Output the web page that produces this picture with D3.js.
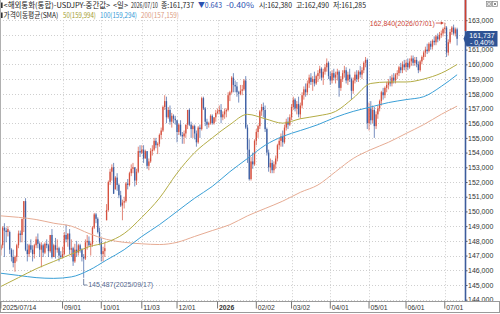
<!DOCTYPE html>
<html>
<head>
<meta charset="utf-8">
<script src="https://cdnjs.cloudflare.com/ajax/libs/d3/7.8.5/d3.min.js"></script>
<style>
body{margin:0;background:#fff;}
svg{display:block;font-family:"Liberation Sans",Arial,sans-serif;}
</style>
</head>
<body>
<svg id="chart" width="500" height="314"></svg>
<script>
// USDJPY daily candles, 2025/07/14 - 2026/07/10 (weekdays)
const START_DATE = "2025-07-14";
const END_DATE = "2026-07-10";

var opens = [
	147.4,147.7,148.9,148.7,148.6,148.6,147.4,146.9,146.5,146.9,
	147.7,148.5,148.4,149.5,150.7,147.4,147.1,147.7,147.4,147.1,
	147.7,148.1,147.8,147.4,147.7,147.2,147.8,147.7,147.3,148.4,
	146.9,147.7,147.4,147.5,147.0,146.9,147.1,148.4,148.1,148.5,
	147.4,147.5,146.6,147.4,147.2,147.7,147.4,146.9,146.8,147.9,
	148.0,147.7,147.8,148.9,149.8,149.5,148.6,147.9,147.1,147.3,
	149.4,150.1,152.0,152.7,153.0,151.5,152.3,151.8,151.1,150.4,
	150.6,150.7,151.9,151.8,152.6,152.9,153.0,152.1,152.7,154.1,
	154.0,154.2,153.6,154.1,153.1,153.4,154.1,154.2,154.8,154.5,
	154.6,155.2,155.5,157.1,157.5,156.4,156.9,156.1,156.5,156.3,
	156.2,155.4,155.9,155.2,155.1,155.3,155.9,156.9,155.9,155.6,
	155.8,155.3,154.7,155.7,155.6,157.7,157.0,156.1,155.9,156.0,
	156.5,156.0,156.4,156.7,156.8,156.9,156.4,156.6,156.8,156.9,
	157.9,158.1,159.1,158.6,158.5,158.1,158.0,158.2,158.3,158.9,
	155.7,154.2,152.2,153.4,153.2,154.8,155.4,155.8,156.8,157.1,
	156.9,155.6,154.0,153.0,153.3,152.8,153.2,153.6,154.5,154.8,
	155.1,154.7,155.7,156.1,155.9,156.4,157.1,157.6,157.0,157.3,
	156.6,157.2,157.9,158.3,158.1,158.7,159.1,158.8,159.0,158.7,
	159.2,159.4,159.7,159.1,159.5,159.8,160.1,159.2,158.9,159.4,
	159.1,159.3,159.5,158.4,159.0,159.4,159.6,158.9,159.3,159.0,
	158.2,158.9,159.3,159.0,159.5,159.3,159.6,160.1,160.3,156.0,
	157.0,156.2,156.9,155.8,156.6,157.0,157.5,158.1,157.9,158.4,
	158.6,158.8,158.7,159.1,158.9,159.3,159.4,159.8,159.6,160.0,
	159.8,160.1,159.8,160.2,160.4,160.1,160.3,160.0,159.6,160.2,
	160.5,160.8,161.0,160.9,161.4,161.2,161.6,161.5,161.9,161.7,
	162.0,162.1,162.4,162.5,160.8,161.5,162.2,162.5,162.1,162.38
];
var highs = [
	147.8,149.0,149.2,148.9,149.0,148.7,147.5,147.4,147.0,147.8,
	148.7,148.7,149.5,150.7,150.9,147.8,147.8,148.1,147.7,147.8,
	148.3,148.5,147.9,147.9,147.8,147.9,148.1,147.8,148.4,148.8,
	147.8,148.2,148.1,147.6,147.3,147.6,148.6,149.1,148.5,148.8,
	148.1,147.6,147.8,148.0,147.8,147.8,147.5,147.1,148.1,148.4,
	148.3,147.9,149.0,149.9,149.9,149.6,148.9,148.2,147.6,147.9,
	150.5,152.1,152.9,153.2,153.3,152.4,152.6,151.9,151.4,150.8,
	151.0,152.0,152.2,152.7,153.2,153.3,153.0,152.9,154.4,154.5,
	154.5,154.5,154.2,154.1,153.6,154.3,154.5,155.0,155.0,154.7,
	155.3,155.7,157.2,157.9,157.8,157.1,157.2,156.7,156.6,156.5,
	156.2,156.0,156.2,155.4,155.5,155.9,156.9,157.0,156.1,155.9,
	155.9,155.5,155.8,155.9,157.8,157.8,157.1,156.3,156.1,156.6,
	156.6,156.4,156.9,157.0,157.2,157.3,156.8,157.0,157.0,158.1,
	158.2,159.2,159.4,158.9,158.8,158.2,158.6,158.6,159.0,159.2,
	155.9,154.9,153.7,154.0,154.9,155.6,155.9,156.9,157.3,157.4,
	157.2,155.7,154.2,153.6,153.5,153.4,153.8,154.6,155.0,155.3,
	155.5,155.9,156.3,156.4,156.6,157.3,157.8,157.7,157.5,157.8,
	157.4,158.1,158.5,158.7,158.9,159.3,159.4,159.2,159.5,159.3,
	159.6,159.9,159.8,159.7,160.0,160.4,160.2,159.5,159.6,159.7,
	159.5,159.7,159.6,159.2,159.6,159.9,159.8,159.5,159.7,159.1,
	159.1,159.5,159.6,159.6,159.9,159.8,160.2,160.5,160.4,157.4,
	157.5,157.2,157.1,156.8,157.2,157.6,158.2,158.4,158.5,158.8,
	159.0,159.2,159.3,159.4,159.4,159.6,159.9,160.1,160.2,160.3,
	160.3,160.4,160.4,160.6,160.6,160.5,160.5,160.2,160.3,160.6,
	160.9,161.2,161.4,161.5,161.6,161.7,161.9,162.0,162.1,162.2,
	162.3,162.5,162.84,162.6,161.7,162.4,162.6,162.7,162.5,162.49
];
var lows = [
	147.0,147.5,146.9,147.9,148.3,147.1,146.6,146.2,145.9,146.6,
	147.5,147.9,147.9,148.6,147.3,146.6,146.9,147.2,146.6,146.8,
	147.5,147.5,146.9,146.2,146.9,147.1,147.5,146.9,147.2,146.8,
	146.9,146.8,147.2,146.6,146.8,146.8,147.0,147.9,147.6,147.1,
	146.9,146.3,146.5,146.9,147.0,147.2,146.6,145.487,146.7,147.4,
	147.6,147.0,147.6,148.8,149.2,148.5,147.7,146.6,146.6,146.9,
	149.4,150.0,151.8,152.1,151.2,151.5,151.4,150.9,150.3,149.4,
	150.2,150.6,151.5,151.7,152.4,152.6,151.7,151.8,152.6,153.7,
	153.9,153.3,153.6,152.9,152.8,153.3,153.8,154.1,154.3,153.9,
	154.4,154.9,155.4,156.9,156.0,156.3,155.9,155.7,156.0,155.9,
	154.7,155.2,155.1,154.6,154.6,155.0,155.6,155.8,155.0,155.0,
	154.9,154.4,154.6,155.0,155.5,156.9,155.8,155.6,155.7,155.9,
	155.9,155.9,156.1,156.6,156.6,156.0,156.2,156.3,156.4,156.8,
	157.5,158.0,158.1,158.1,157.8,157.4,157.9,157.9,158.2,155.6,
	153.3,152.1,152.1,152.9,153.1,154.5,155.0,155.6,156.5,156.4,
	155.4,153.8,152.7,152.6,152.6,152.6,152.9,153.4,154.2,154.4,
	154.4,154.6,155.5,155.6,155.8,156.2,156.9,156.8,156.6,156.4,
	156.3,157.0,157.6,157.8,157.9,158.4,158.6,158.2,158.5,158.6,
	158.8,159.0,158.9,158.6,159.3,159.5,159.0,158.6,158.7,158.9,
	158.7,158.9,157.8,158.2,158.8,159.1,158.7,158.6,158.8,157.6,
	158.0,158.7,158.8,158.8,159.1,159.0,159.4,159.8,155.6,155.5,
	155.9,156.0,155.0,155.6,156.3,156.8,157.2,157.6,157.7,158.1,
	158.3,158.5,158.5,158.7,158.7,159.0,159.2,159.4,159.4,159.6,
	159.5,159.6,159.7,159.9,159.9,159.9,159.8,159.4,159.5,160.0,
	160.3,160.5,160.7,160.8,161.0,161.0,161.3,161.3,161.5,161.6,
	161.8,161.9,162.1,160.5,160.6,161.4,162.0,162.0,161.9,161.285
];
var closes = [
	147.7,148.9,148.7,148.6,148.8,147.4,146.9,146.5,146.9,147.7,
	148.5,148.4,149.5,150.7,147.4,147.1,147.7,147.4,147.1,147.7,
	148.1,147.8,147.4,147.7,147.2,147.8,147.7,147.3,148.4,146.9,
	147.7,147.4,147.5,147.0,146.9,147.1,148.4,148.1,148.5,147.4,
	147.5,146.6,147.4,147.2,147.7,147.4,146.9,146.8,147.9,148.0,
	147.7,147.8,148.9,149.8,149.5,148.6,147.9,147.1,147.3,147.5,
	150.1,152.0,152.7,153.0,151.2,152.3,151.8,151.1,150.4,150.6,
	150.7,151.9,151.8,152.6,152.9,153.0,152.1,152.7,154.1,154.0,
	154.2,153.6,154.1,153.1,153.4,154.1,154.2,154.8,154.5,154.6,
	155.2,155.5,157.1,157.5,156.4,156.9,156.1,156.5,156.3,156.2,
	155.4,155.9,155.2,155.1,155.3,155.9,156.9,155.9,155.6,155.8,
	155.3,154.7,155.7,155.6,157.7,157.0,156.1,155.9,156.0,156.5,
	156.0,156.4,156.7,156.8,156.9,156.4,156.6,156.8,156.9,157.9,
	158.1,159.1,158.6,158.5,158.1,158.0,158.2,158.3,158.9,155.7,
	154.2,152.2,153.4,153.2,154.8,155.4,155.8,156.8,157.1,156.9,
	155.6,154.0,153.0,153.3,152.8,153.2,153.6,154.5,154.8,155.1,
	154.7,155.7,156.1,155.9,156.4,157.1,157.6,157.0,157.3,156.6,
	157.2,157.9,158.3,158.1,158.7,159.1,158.8,159.0,158.7,159.2,
	159.4,159.7,159.1,159.5,159.8,160.1,159.2,158.9,159.4,159.1,
	159.3,159.5,158.4,159.0,159.4,159.6,158.9,159.3,159.0,158.2,
	158.9,159.3,159.0,159.5,159.3,159.6,160.1,160.3,156.0,157.0,
	156.2,156.9,155.8,156.6,157.0,157.5,158.1,157.9,158.4,158.6,
	158.8,158.7,159.1,158.9,159.3,159.4,159.8,159.6,160.0,159.8,
	160.1,159.8,160.2,160.4,160.1,160.3,160.0,159.6,160.2,160.5,
	160.8,161.0,160.9,161.4,161.2,161.6,161.5,161.9,161.7,162.0,
	162.1,162.4,162.5,160.8,161.5,162.2,162.5,162.1,162.38,161.737
];

// moving averages at every 10th session
var maIndex = [0,10,20,30,40,50,60,70,80,90,100,110,120,130,140,150,160,170,180,190,200,210,220,230,240,250,259];
var sma50  = [144.9,145.5,146.1,146.6,147.1,147.6,147.9,148.5,149.6,150.9,152.6,154.0,155.0,155.9,156.6,156.3,156.0,156.3,156.5,156.8,157.7,158.7,158.8,158.8,159.0,159.4,159.994];
var sma100 = [145.8,145.65,145.5,145.45,145.55,146.0,146.7,147.4,148.3,149.1,150.0,150.9,151.7,152.7,153.6,154.5,155.1,155.5,155.9,156.4,156.8,157.1,157.4,157.6,157.8,158.5,159.294];
var sma200 = [149.7,149.6,149.45,149.2,149.0,148.5,148.1,147.9,147.8,147.75,147.9,148.3,148.7,149.1,149.7,150.2,150.7,151.3,151.8,152.7,153.6,154.2,154.7,155.3,155.9,156.6,157.159];

var tickDates  = ["2025-07-14","2025-09-01","2025-10-01","2025-11-03","2025-12-01","2026-01-01","2026-02-02","2026-03-02","2026-04-01","2026-05-01","2026-06-01","2026-07-01"];
var tickLabels = ["2025/07/14","09/01","10/01","11/03","12/01","2026","02/02","03/02","04/01","05/01","06/01","07/01"];
var priceTicks = [144,145,146,147,148,149,150,151,152,153,154,155,156,157,158,159,160,161,162,163];

var UP_COLOR = "#d5503e", DOWN_COLOR = "#3d5fa3";
var MA_COLORS = {sma50: "#b3ac45", sma100: "#3a9fd6", sma200: "#e6ab93"};

function tradingDays(start, end){
	var days = [];
	var d = new Date(start + "T00:00:00Z"), last = new Date(end + "T00:00:00Z");
	while (d <= last){
		var wd = d.getUTCDay();
		if (wd != 0 && wd != 6) days.push(d.toISOString().slice(0, 10));
		d.setUTCDate(d.getUTCDate() + 1);
	}
	return days;
}

function fmt(v){
	return v.toFixed(3).replace(".", ",");
}

var days = tradingDays(START_DATE, END_DATE);
var n = closes.length;

var svg = d3.select("#chart");
var plotRight = 465.5, plotBottom = 301.5;

var x = d3.scaleBand().domain(days).range([0, 458]).padding(0);
var y = d3.scaleLinear().domain([144, 163]).range([299.7, 20.2]);
var bw = x.bandwidth();
function cx(i){ return x(days[i]) + bw / 2; }

svg.append("rect").attr("width", 500).attr("height", 314).attr("fill", "#fff");

svg.append("clipPath").attr("id", "plotClip")
	.append("rect").attr("x", 0).attr("y", 0).attr("width", plotRight).attr("height", plotBottom);

var plot = svg.append("g").attr("clip-path", "url(#plotClip)");

//---------------------------------  grid  ---------------------------------------

plot.selectAll(".hgrid").data(priceTicks).enter().append("line")
	.attr("x1", 0).attr("x2", plotRight)
	.attr("y1", function(d){ return Math.round(y(d)) + 0.5; })
	.attr("y2", function(d){ return Math.round(y(d)) + 0.5; })
	.attr("stroke", "#cfcfcf").attr("stroke-dasharray", "1,2");

plot.selectAll(".vgrid").data(tickDates.slice(1)).enter().append("line")
	.attr("x1", function(d){ return Math.round(x(d) + bw / 2) + 0.5; })
	.attr("x2", function(d){ return Math.round(x(d) + bw / 2) + 0.5; })
	.attr("y1", y(163)).attr("y2", plotBottom)
	.attr("stroke", "#cfcfcf").attr("stroke-dasharray", "1,2");

//---------------------------------  candles  ---------------------------------------

var idx = d3.range(n);

plot.selectAll(".wick").data(idx).enter().append("line")
	.attr("x1", cx).attr("x2", cx)
	.attr("y1", function(i){ return y(highs[i]); })
	.attr("y2", function(i){ return y(lows[i]); })
	.attr("stroke", function(i){ return closes[i] >= opens[i] ? UP_COLOR : DOWN_COLOR; })
	.attr("stroke-width", 0.7);

plot.selectAll(".body").data(idx).enter().append("rect")
	.attr("x", function(i){ return cx(i) - 0.65; })
	.attr("width", 1.3)
	.attr("y", function(i){ return y(Math.max(opens[i], closes[i])); })
	.attr("height", function(i){ return Math.max(1, Math.abs(y(opens[i]) - y(closes[i]))); })
	.attr("fill", function(i){ return closes[i] >= opens[i] ? UP_COLOR : DOWN_COLOR; });

//---------------------------------  moving averages  ---------------------------------------

var maLine = d3.line()
	.x(function(d){ return cx(d[0]); })
	.y(function(d){ return y(d[1]); })
	.curve(d3.curveMonotoneX);

[["sma200", sma200], ["sma100", sma100], ["sma50", sma50]].forEach(function(s){
	plot.append("path")
		.datum(maIndex.map(function(i, k){ return [i, s[1][k]]; }))
		.attr("fill", "none")
		.attr("stroke", MA_COLORS[s[0]])
		.attr("stroke-width", 1)
		.attr("d", maLine);
});

//---------------------------------  high / low marks  ---------------------------------------

var hiI = d3.maxIndex(highs), loI = d3.minIndex(lows);
var hx = cx(hiI), hy = y(highs[hiI]) + 0.5;
svg.append("line").attr("x1", hx - 9).attr("x2", hx - 3).attr("y1", hy).attr("y2", hy)
	.attr("stroke", "#cc4436").attr("stroke-width", 0.8);
svg.append("path").attr("d", "M" + (hx - 1) + "," + hy + "L" + (hx - 4) + "," + (hy - 1.8) + "L" + (hx - 4) + "," + (hy + 1.8) + "Z")
	.attr("fill", "#cc4436");
svg.append("text").attr("x", hx - 10).attr("y", hy + 2.6)
	.attr("text-anchor", "end").attr("font-size", 7).attr("fill", "#cc4436")
	.text(fmt(highs[hiI]) + "(" + days[hiI].replace(/-/g, "/") + ")");

var lx = cx(loI), ly = y(lows[loI]);
svg.append("path").attr("d", "M" + lx + "," + (ly + 1) + "V" + (ly + 7.2) + "H" + (lx + 3.5))
	.attr("fill", "none").attr("stroke", "#55698f").attr("stroke-width", 0.8);
svg.append("text").attr("x", lx + 4.5).attr("y", ly + 9.6)
	.attr("font-size", 7).attr("fill", "#55698f")
	.text(fmt(lows[loI]) + "(" + days[loI].replace(/-/g, "/") + ")");

//---------------------------------  axes  ---------------------------------------

svg.append("line").attr("x1", 0.5).attr("x2", 0.5).attr("y1", 0).attr("y2", 313)
	.attr("stroke", "#b0b0b0");

var yAxis = svg.append("g")
	.attr("transform", "translate(" + plotRight + ",0)")
	.call(d3.axisRight(y).tickValues(priceTicks).tickSize(2).tickFormat(fmt));
yAxis.select(".domain").remove();
yAxis.selectAll("line").attr("stroke", "#555");
yAxis.selectAll("text").attr("x", 2.5).attr("font-size", 7).attr("fill", "#333")
	.attr("font-family", "'Liberation Sans', Arial, sans-serif");

svg.append("line").attr("x1", plotRight).attr("x2", plotRight).attr("y1", 0).attr("y2", plotBottom)
	.attr("stroke", "#3c5c9c").attr("stroke-width", 1.6);
svg.append("line").attr("x1", plotRight).attr("x2", plotRight).attr("y1", 0).attr("y2", 31)
	.attr("stroke", "#d0402f").attr("stroke-width", 1.6);

svg.append("rect").attr("x", 0.5).attr("y", plotBottom).attr("width", 499).attr("height", 11)
	.attr("fill", "#fff").attr("stroke", "#9a9a9a");

var xAxis = svg.append("g")
	.attr("transform", "translate(0," + plotBottom + ")")
	.call(d3.axisBottom(x).tickValues(tickDates).tickSize(7)
		.tickFormat(function(d){ return tickLabels[tickDates.indexOf(d)]; }));
xAxis.select(".domain").remove();
xAxis.selectAll("line").attr("stroke", "#777");
xAxis.selectAll("text")
	.attr("x", 1.5).attr("y", 8.6).attr("dy", null)
	.attr("text-anchor", "start").attr("font-size", 6.8).attr("fill", "#333")
	.attr("font-family", "'Liberation Sans', Arial, sans-serif")
	.attr("font-weight", function(d){ return d == "2026-01-01" ? "bold" : null; });

//---------------------------------  last price box  ---------------------------------------

var last = closes[n - 1], prev = closes[n - 2];
var chg = last - prev, pct = chg / prev * 100;
var py = y(last);
svg.append("path")
	.attr("d", "M463.5," + py + "L466.5,31H497.5V46.5H466.5Z")
	.attr("fill", "#2e5395");
svg.append("text").attr("x", 482).attr("y", 37.6).attr("text-anchor", "middle")
	.attr("font-size", 7).attr("fill", "#fff").text(fmt(last));
svg.append("text").attr("x", 482).attr("y", 45).attr("text-anchor", "middle")
	.attr("font-size", 7).attr("fill", "#fff").text("- " + Math.abs(pct).toFixed(2).replace(".", ",") + "%");

// window buttons
svg.append("rect").attr("x", 486.5).attr("y", 1.5).attr("width", 5).attr("height", 5)
	.attr("fill", "#fff").attr("stroke", "#888").attr("stroke-width", 0.7);
svg.append("rect").attr("x", 487.8).attr("y", 2.8).attr("width", 2.4).attr("height", 2.4)
	.attr("fill", "none").attr("stroke", "#666").attr("stroke-width", 0.6);
svg.append("rect").attr("x", 492.5).attr("y", 1.5).attr("width", 5).attr("height", 5)
	.attr("fill", "#fff").attr("stroke", "#888").attr("stroke-width", 0.7);
svg.append("path").attr("d", "M493.8,2.8L496.2,5.2M496.2,2.8L493.8,5.2")
	.attr("stroke", "#555").attr("stroke-width", 0.7);

//---------------------------------  header  ---------------------------------------

svg.append("rect").attr("x", 1).attr("y", 2.5).attr("width", 1.6).attr("height", 5.5).attr("fill", "#333");
svg.append("rect").attr("x", 1).attr("y", 12.5).attr("width", 1.6).attr("height", 5.5).attr("fill", "#333");

// each piece: [text, x, width, colour]
var headLine1 = [
	["<해외통화(통합)-USDJPY-중간값>", 3.5, 107, "#222"],
	["<일>", 113, 15, "#222"],
	[days[n - 1].replace(/-/g, "/"), 131, 27, "#222"],
	["종:" + fmt(last), 161, 33, "#222"],
	["▼" + Math.abs(chg).toFixed(3), 198, 24, "#2b50b0"],
	["-" + Math.abs(pct).toFixed(2) + "%", 226, 28, "#2b50b0"],
	["시:" + fmt(opens[n - 1]), 259, 33, "#222"],
	["고:" + fmt(highs[n - 1]), 296, 33, "#222"],
	["저:" + fmt(lows[n - 1]), 333, 33, "#222"]
];
var headLine2 = [
	["가격이동평균(SMA)", 3.5, 55, "#222"],
	["50(" + fmt(sma50[sma50.length - 1]) + ")", 63, 33, "#a39c2c"],
	["100(" + fmt(sma100[sma100.length - 1]) + ")", 100, 37, "#2f98d6"],
	["200(" + fmt(sma200[sma200.length - 1]) + ")", 141, 38, "#dc9a80"]
];

// squeeze each piece horizontally to the width it has in the screenshot
function drawHead(parts, baseline){
	svg.selectAll(null).data(parts).enter().append("text")
		.attr("font-family", "'Noto Sans CJK KR', sans-serif")
		.attr("font-size", 7.5)
		.attr("fill", function(d){ return d[3]; })
		.text(function(d){ return d[0]; })
		.attr("transform", function(d){
			var w = this.getComputedTextLength();
			return "translate(" + d[1] + "," + baseline + ") scale(" + (d[2] / w) + ",1)";
		});
}
drawHead(headLine1, 8);
drawHead(headLine2, 18);

console.log(days.length, opens.length, highs.length, lows.length, closes.length);
</script>
</body>
</html>
